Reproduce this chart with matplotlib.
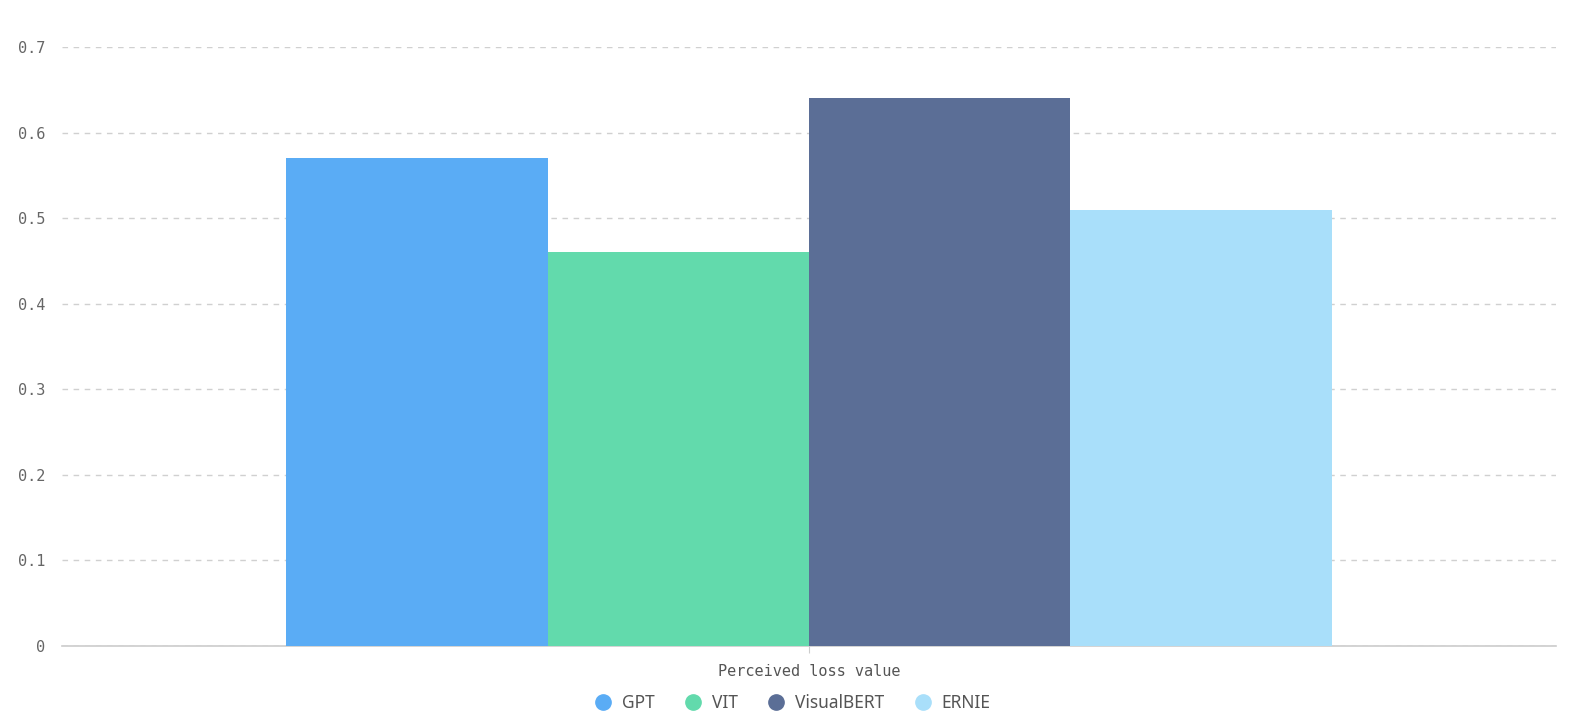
import matplotlib
matplotlib.use('Agg')
import matplotlib.pyplot as plt
from matplotlib.lines import Line2D

category = 'Perceived loss value'
models = ['GPT', 'VIT', 'VisualBERT', 'ERNIE']
values = [0.57, 0.46, 0.64, 0.51]
colors = ['#5aacf5', '#62daac', '#5b6e96', '#a9dffa']
yticks = [0, 0.1, 0.2, 0.3, 0.4, 0.5, 0.6, 0.7]

fig = plt.figure(figsize=(15.76, 7.25), dpi=100)
ax = fig.add_axes([62/1576, (725-646)/725, (1556-62)/1576, 599/725])

# bars share one category, 70% of its width
group_w = 0.7
bw = group_w / len(models)
for i, (m, v, c) in enumerate(zip(models, values, colors)):
    x = -group_w/2 + bw*(i + 0.5)
    ax.bar(x, v, width=bw, color=c, label=m, zorder=3)

ax.set_xlim(-0.5, 0.5)
ax.set_ylim(0, 0.7)
ax.set_yticks(yticks)
ax.set_yticklabels(['0' if t == 0 else f'{t:.1f}' for t in yticks],
                   family='DejaVu Sans Mono', fontsize=11, color='#666666')
ax.set_xticks([0])
ax.set_xticklabels([category], family='DejaVu Sans Mono', fontsize=11, color='#555555')
ax.tick_params(axis='y', length=0, pad=12)
ax.tick_params(axis='x', length=5, color='#cccccc', pad=8)
ax.grid(axis='y', color='#d0d0d0', linestyle=(0, (4, 4)), linewidth=1, zorder=0)
for s in ['top', 'right', 'left']:
    ax.spines[s].set_visible(False)
ax.spines['bottom'].set_color('#cccccc')
ax.spines['bottom'].set_linewidth(1.2)

handles = [Line2D([], [], marker='o', linestyle='', markersize=11, color=c) for c in colors]
fig.legend(handles, models, loc='center', bbox_to_anchor=(788/1576, 1 - 703/725), ncol=4,
           frameon=False, handletextpad=0.1, columnspacing=1.2,
           prop={'family': 'Noto Sans', 'size': 12.5}, labelcolor='#555555')

fig.savefig('out.png', dpi=100)
